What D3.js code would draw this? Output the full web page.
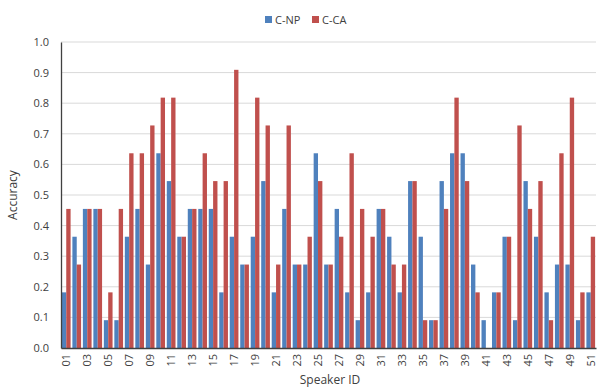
<!DOCTYPE html>
<html><head><meta charset="utf-8">
<script src="https://cdn.jsdelivr.net/npm/d3@7"></script>
<style>body{margin:0;background:#fff}svg{display:block}text{font-family:"Open Sans","Liberation Sans",sans-serif;fill:#404040}</style>
</head><body><svg id="c" width="600" height="387"></svg>
<script>
const speakers = d3.range(1,52).map(i => String(i).padStart(2,"0"));
const seriesNames = ["C-NP","C-CA"];
const colors = ["#4F81BD","#C0504D"];
// values in units of 1/11
const npUnits = [2,4,5,5,1,1,4,5,3,7,6,4,5,5,5,2,4,3,4,6,2,5,3,3,7,3,5,2,1,2,5,4,2,6,4,1,6,7,7,3,1,2,4,1,6,4,2,3,3,1,2];
const caUnits = [5,3,5,5,2,5,7,7,8,9,9,4,5,7,6,6,10,3,9,8,3,8,3,4,6,3,4,7,5,4,5,3,3,6,1,1,5,9,6,2,0,2,4,8,5,6,1,7,9,2,4];
const npValues = npUnits.map(u => u/11);
const caValues = caUnits.map(u => u/11);
const yTicks = [0,0.1,0.2,0.3,0.4,0.5,0.6,0.7,0.8,0.9,1.0];
const xTickLabels = speakers.filter((s,i) => i%2===0);

const svg = d3.select("#c");
const m = {left:61, right:4, top:42, bottom:39};
const W = 600, H = 387;
const x = d3.scaleBand().domain(speakers).range([m.left, W-m.right]).paddingInner(0.17).paddingOuter(0.085);
const xs = d3.scaleBand().domain(seriesNames).range([0, x.bandwidth()]);
const y = d3.scaleLinear().domain([0,1]).range([H-m.bottom, m.top]);

// grid
svg.append("g").selectAll("line").data(yTicks.slice(1)).join("line")
  .attr("x1", m.left).attr("x2", W-m.right)
  .attr("y1", d => y(d)).attr("y2", d => y(d))
  .attr("stroke", "#d9d9d9").attr("stroke-width", 1);

const data = speakers.map((s,i) => ({s, v:[npValues[i], caValues[i]]}));
const g = svg.append("g").selectAll("g").data(data).join("g")
  .attr("transform", d => `translate(${x(d.s)},0)`);
g.selectAll("rect").data(d => d.v.map((v,j) => ({v, j}))).join("rect")
  .attr("x", d => xs(seriesNames[d.j]))
  .attr("width", xs.bandwidth())
  .attr("y", d => y(d.v))
  .attr("height", d => y(0) - y(d.v))
  .attr("fill", d => colors[d.j]);

// y axis
const yAxis = d3.axisLeft(y).tickValues(yTicks).tickFormat(d3.format(".1f")).tickSize(0).tickPadding(12);
const ya = svg.append("g").attr("transform", `translate(${m.left},0)`).call(yAxis);
ya.select(".domain").attr("stroke", "#404040").attr("stroke-width", 1.3);
ya.selectAll("text").attr("font-size", 11).attr("fill", "#404040").attr("font-family", "'Open Sans','Liberation Sans',sans-serif");

// x axis
const xAxis = d3.axisBottom(x).tickValues(xTickLabels).tickSize(0).tickPadding(0);
const xa = svg.append("g").attr("transform", `translate(0,${y(0)})`).call(xAxis);
xa.select(".domain").attr("stroke", "#404040").attr("stroke-width", 1.3);
xa.selectAll("text").attr("font-size", 11).attr("fill", "#404040")
  .attr("font-family", "'Open Sans','Liberation Sans',sans-serif")
  .attr("text-anchor", "end").attr("dy", "0.35em").attr("dx", 0)
  .attr("transform", "translate(0,6) rotate(-90)").attr("y", 0).attr("x", 0);

// axis titles
svg.append("text").attr("x", 330).attr("y", 384).attr("text-anchor", "middle").attr("font-size", 12).text("Speaker ID");
svg.append("text").attr("transform", `translate(17,${(y(0)+y(1))/2}) rotate(-90)`).attr("text-anchor", "middle").attr("font-size", 12).text("Accuracy");

// legend
const leg = svg.append("g");
const legX = [265, 312];
seriesNames.forEach((n,i) => {
  leg.append("rect").attr("x", legX[i]).attr("y", 16).attr("width", 7).attr("height", 7).attr("fill", colors[i]);
  leg.append("text").attr("x", legX[i]+10).attr("y", 23.5).attr("font-size", 11).text(n);
});
</script></body></html>
